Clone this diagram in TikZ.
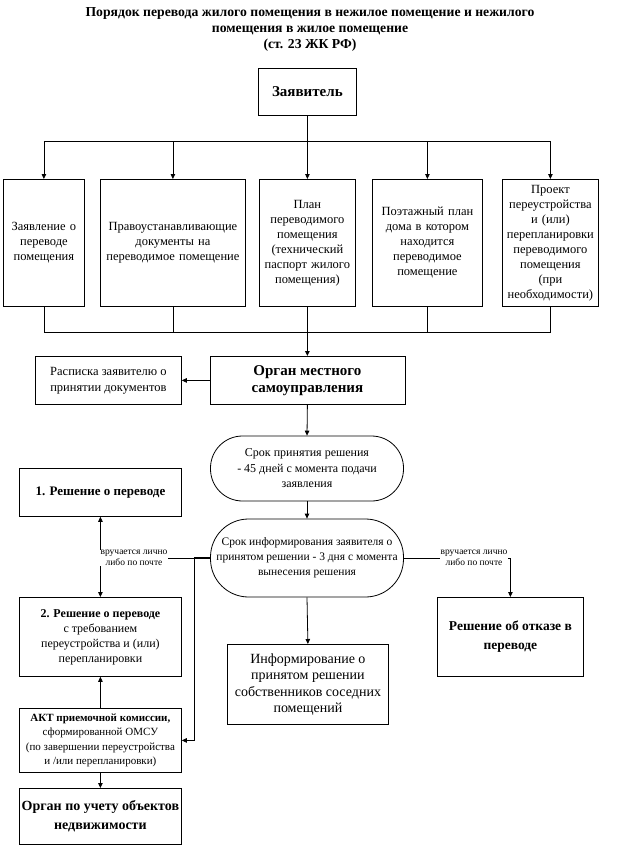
\documentclass[tikz,border=0pt]{standalone}
\usepackage{fontspec}
\setmainfont{Liberation Serif}
\usetikzlibrary{arrows.meta}
\newcommand{\fs}[2]{\fontsize{#1}{#2}\selectfont}
\tikzset{
  box/.style={draw, line width=0.8pt, anchor=north west, align=center, inner sep=1pt},
  ln/.style={line width=0.8pt},
  thk/.style={line width=1.6pt},
  arr/.style={-{Triangle[length=5pt,width=4.5pt]}},
  darr/.style={{Triangle[length=5pt,width=4.5pt]}-{Triangle[length=5pt,width=4.5pt]}},
  lbl/.style={fill=white, inner sep=0.5pt, align=center, font=\fs{9.5}{11}},
  stad/.style={draw, line width=0.8pt, align=center, inner sep=1pt}
}
\begin{document}
\begin{tikzpicture}[x=1pt,y=-1pt]
\useasboundingbox (0,0) rectangle (640,848);
% title
\node[align=center, font=\bfseries\fs{13.7}{16}] (title) at (310,29)
  {Порядок перевода жилого помещения в нежилое помещение и нежилого\\помещения в жилое помещение\\(ст. 23 ЖК РФ)};
% applicant
\node[box, minimum width=98, minimum height=47, font=\bfseries\fs{15}{18}] (zav) at (258,68) {Заявитель};
% documents
\node[box, minimum width=81, minimum height=127, text width=77, font=\fs{12.5}{15}] (b1) at (3,179) {Заявление о\\переводе\\помещения};
\node[box, minimum width=145, minimum height=127, text width=141, font=\fs{12.5}{15}] (b2) at (100,179) {Правоустанавливающие\\документы на\\переводимое помещение};
\node[box, minimum width=96, minimum height=127, text width=92, font=\fs{12.5}{15}] (b3) at (259,179) {План\\переводимого\\помещения\\(технический\\паспорт жилого\\помещения)};
\node[box, minimum width=110, minimum height=127, text width=106, font=\fs{12.5}{15}] (b4) at (372,179) {Поэтажный план\\дома в котором\\находится\\переводимое\\помещение};
\node[box, minimum width=96, minimum height=127, text width=92, font=\fs{12.5}{15}] (b5) at (502,179) {Проект\\переустройства\\и (или)\\перепланировки\\переводимого\\помещения\\(при\\необходимости)};
% organ
\node[box, minimum width=195, minimum height=48, font=\bfseries\fs{15}{17}] (org) at (209.5,356) {Орган местного\\самоуправления};
\node[box, minimum width=146, minimum height=48, font=\fs{12.5}{16}] (ras) at (35,356) {Расписка заявителю о\\принятии документов};
% stadiums
\node[stad, minimum width=193, minimum height=65, rounded corners=32, font=\fs{12}{15.5}] (st1) at (307,468.5) {Срок принятия решения\\- 45 дней с момента подачи\\заявления};
\node[stad, minimum width=193, minimum height=78, rounded corners=38, font=\fs{11.5}{15}] (st2) at (307,558) {Срок информирования заявителя о\\принятом решении - 3 дня с момента\\вынесения решения};
% decisions
\node[box, minimum width=162, minimum height=48, font=\bfseries\fs{13}{15}] (r1) at (19,468) {1. Решение о переводе};
\node[box, minimum width=162, minimum height=79, font=\fs{12}{15}] (r2) at (19,597) {\textbf{2. Решение о переводе}\\с требованием\\переустройства и (или)\\перепланировки};
\node[box, minimum width=146, minimum height=79, font=\bfseries\fs{13.5}{19}] (otk) at (437,597) {Решение об отказе в\\переводе};
\node[box, minimum width=161, minimum height=80, font=\fs{14}{16.5}] (inf) at (227,644) {Информирование о\\принятом решении\\собственников соседних\\помещений};
\node[box, minimum width=162, minimum height=64, font=\fs{11}{14.5}] (akt) at (19,708) {\textbf{АКТ приемочной комиссии,}\\сформированной ОМСУ\\(по завершении переустройства\\и /или перепланировки)};
\node[box, minimum width=162, minimum height=56, font=\bfseries\fs{14}{19}] (ouch) at (19,788) {Орган по учету объектов\\недвижимости};
% top bus
\coordinate (bus) at (307,141);
\draw[thk] (zav.south) -- (zav.south |- bus);
\draw[ln] (b1.north |- bus) -- (b5.north |- bus);
\foreach \b in {b1,b2,b3,b4,b5} \draw[ln,arr] (\b.north |- bus) -- (\b.north);
% bottom bus
\coordinate (bus2) at (307,332);
\draw[ln] (b1.south) -- (b1.south |- bus2) -- (b5.south |- bus2) -- (b5.south);
\foreach \b in {b2,b3,b4} \draw[ln] (\b.south) -- (\b.south |- bus2);
\draw[thk,arr] (b3.south |- bus2) -- (org.north);
% organ links
\draw[ln,arr] (org.west) -- (ras.east);
\draw[ln,arr] (org.south) -- (st1.north);
\draw[ln,arr] (st1.south) -- (st2.north);
\draw[ln,arr] (st2.south) -- (inf.north);
% left branch
\draw[ln,darr] (r1.south) -- (r2.north);
\coordinate (jl) at (194,558);
\draw[ln] (st2.west) -- (r1.south |- st2.west);
\draw[thk] (st2.west) -- (jl);
\draw[ln,arr] (jl) |- (akt.east);
\node[lbl] (lblL) at (134,558) {вручается лично\\либо по почте};
% right branch
\draw[ln,arr] (st2.east) -| (otk.north);
\node[lbl] (lblR) at (474,558) {вручается лично\\либо по почте};
% act links
\draw[ln,arr] (akt.north) -- (r2.south);
\draw[ln,arr] (akt.south) -- (ouch.north);
\end{tikzpicture}
\end{document}
